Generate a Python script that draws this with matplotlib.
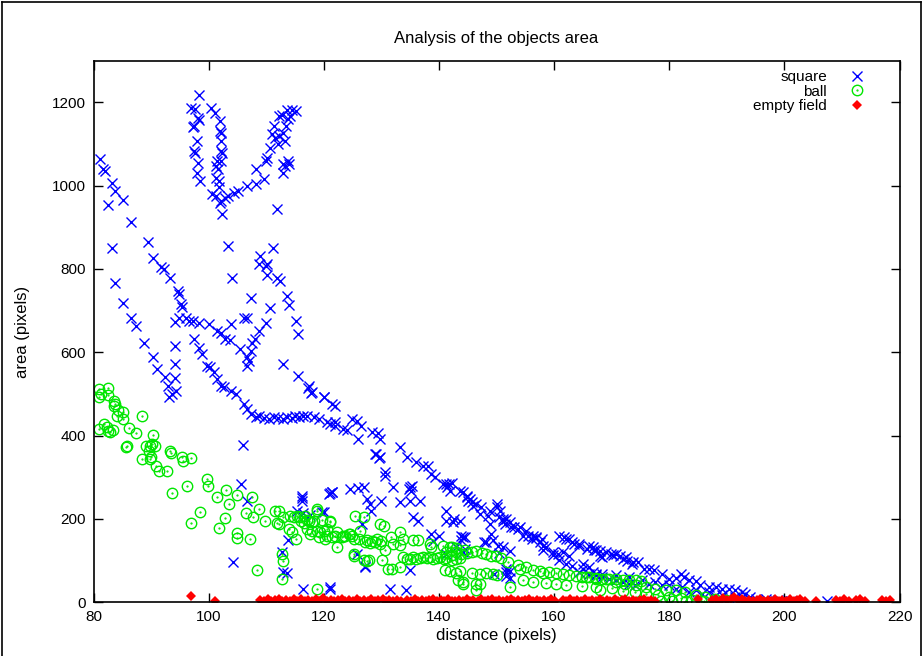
import numpy as np
import matplotlib
matplotlib.use("Agg")
from matplotlib import pyplot as plt
from matplotlib.lines import Line2D

plt.rcParams['font.family'] = ['Liberation Sans', 'DejaVu Sans']
plt.rcParams['font.size'] = 11

"""data read from the picture: (distance, area)"""
square = [
    (81.2, 1063), (81.6, 1041), (82.0, 1036), (83.2, 1006), (83.8, 987), (82.6, 953), (85.1, 965),
    (86.5, 913), (83.2, 850), (89.4, 865), (90.3, 827), (91.7, 805), (92.3, 801), (93.3, 778),
    (98.3, 1217), (96.9, 1186), (97.7, 1185), (98.1, 1162), (98.4, 1157), (97.5, 1143), (97.3, 1141),
    (97.9, 1107), (97.5, 1083), (97.6, 1078), (98.1, 1055), (97.9, 1031), (98.5, 1011),
    (100.4, 1186), (101.1, 1174), (102.0, 1156), (102.0, 1132), (102.2, 1127), (102.2, 1107),
    (102.2, 1083), (102.3, 1078), (102.2, 1059), (101.5, 1059), (101.2, 1047), (101.6, 1040),
    (101.2, 1019), (101.8, 1011), (101.8, 996), (100.5, 979), (101.2, 976), (102.1, 963), (102.0, 958),
    (102.4, 931), (102.9, 971), (103.4, 974), (104.4, 983), (105.1, 986), (106.6, 999), (108.2, 1004),
    (109.6, 1015), (108.3, 1039), (110.0, 1059), (110.2, 1066), (110.6, 1091), (111.0, 1123),
    (111.4, 1143), (112.2, 1166), (112.8, 1170), (113.6, 1182), (114.5, 1182), (115.2, 1178),
    (111.5, 1115), (112.0, 1099), (112.3, 1120), (112.9, 1127), (113.2, 1107), (113.5, 1143),
    (113.8, 1159), (114.1, 1167), (112.9, 1051), (113.3, 1047), (113.7, 1060), (114.0, 1052),
    (113.0, 1031), (111.8, 945), (103.4, 855), (111.1, 851), (109.0, 831), (110.1, 811), (108.7, 811),
    (109.9, 808), (110.2, 785),
    (83.8, 766), (85.1, 719), (86.5, 682), (87.3, 662), (88.7, 623), (90.3, 588), (91.0, 560),
    (92.5, 541), (92.9, 520), (93.2, 492), (93.7, 500), (94.3, 508), (94.1, 538), (94.1, 572),
    (94.1, 616), (94.1, 673), (94.8, 683), (94.6, 747), (95.2, 716), (95.4, 708), (94.9, 739),
    (96.0, 683), (96.6, 675), (97.2, 674), (98.3, 671), (100.1, 669), (101.5, 651), (102.1, 647),
    (102.9, 632), (103.7, 629), (105.5, 608),
    (97.5, 632), (98.3, 610), (98.9, 596), (99.8, 568), (100.3, 565), (100.9, 552), (101.5, 536),
    (102.1, 520), (102.7, 516), (103.8, 508), (104.7, 500), (106.1, 476), (106.7, 464), (107.3, 452),
    (108.2, 444), (108.8, 446), (109.6, 443), (110.4, 440), (111.3, 444), (112.0, 442), (112.9, 441),
    (113.6, 445), (114.4, 443), (115.0, 447), (115.7, 445), (116.4, 448), (117.1, 448), (118.3, 444),
    (119.2, 440),
    (104.1, 778), (107.3, 730), (106.7, 683), (108.7, 651), (109.9, 671), (110.7, 707), (111.9, 779),
    (112.4, 771), (113.6, 735), (114.0, 713), (115.1, 675), (115.6, 644), (113.0, 573), (115.6, 544),
    (117.3, 515), (117.8, 502), (120.0, 492),
    (106.7, 588), (107.3, 604), (107.0, 580), (106.7, 568), (107.5, 622), (108.1, 633),
    (103.8, 668), (106.2, 683), (106.0, 378),
    (117.4, 520), (118.0, 504), (120.1, 492), (121.4, 476), (122.0, 470), (120.5, 432), (121.1, 428),
    (121.9, 432), (122.0, 424), (123.4, 416), (124.0, 414), (124.9, 440), (125.8, 436), (126.0, 392),
    (126.4, 424), (128.3, 408), (129.4, 406), (129.8, 392), (128.9, 356), (129.7, 348), (130.6, 312),
    (130.6, 304), (133.2, 372), (134.4, 348), (136.1, 336), (137.2, 326), (138.1, 326), (139.3, 300),
    (138.7, 308), (140.7, 284), (141.8, 284), (141.4, 276), (143.6, 268), (144.8, 252), (145.1, 244),
    (145.7, 240), (147.1, 212), (148.5, 208), (150.0, 228), (150.6, 219), (151.1, 196), (151.7, 199),
    (152.3, 192), (154.0, 180), (155.2, 172), (156.3, 160), (156.9, 156), (157.9, 152), (160.9, 160),
    (162.0, 152), (163.2, 144), (164.4, 136), (161.5, 120), (162.6, 112), (165.0, 92), (166.1, 84),
    (167.3, 68), (166.7, 132), (167.9, 124),
    (135.0, 276), (134.8, 272), (135.3, 280), (135.1, 268), (133.2, 240), (135.0, 244), (136.7, 244),
    (135.5, 204), (136.4, 196), (132.1, 276), (127.5, 248), (128.0, 236), (130.0, 242), (126.9, 276),
    (124.6, 272), (120.9, 260), (121.5, 264), (119.7, 216), (126.6, 188), (127.2, 84), (131.5, 33),
    (134.2, 30), (121.1, 33), (141.3, 220), (143.9, 160), (144.5, 156), (143.0, 132), (147.9, 144),
    (149.1, 164), (151.7, 81), (152.3, 76), (138.7, 164), (140.0, 160), (139.0, 148), (135.0, 77),
    (141.3, 117), (144.5, 129), (144.2, 120),
    (105.6, 283), (106.7, 242), (104.2, 97), (116.2, 256), (116.2, 250), (116.2, 244), (115.4, 220),
    (116.4, 214), (117.6, 210), (120.0, 216), (121.0, 262), (121.4, 264), (126.0, 275), (128.2, 220),
    (125.7, 117), (127.1, 86), (129.1, 356), (129.6, 346), (112.8, 120), (113.7, 149), (113.0, 73),
    (113.6, 70), (116.4, 33), (121.0, 37),
    (141.3, 284), (142.2, 286), (141.9, 268), (144.2, 264), (144.8, 256), (145.4, 248), (145.9, 232),
    (146.5, 236), (147.3, 228), (148.8, 220), (150.0, 236), (150.5, 204), (151.1, 200), (151.4, 188),
    (152.5, 180), (153.1, 180), (153.7, 176), (154.6, 160), (155.5, 160), (156.1, 152), (156.9, 154),
    (157.5, 144), (158.0, 136), (158.6, 132), (159.8, 120), (160.6, 116), (161.8, 156), (162.6, 152),
    (163.5, 141), (164.4, 140), (166.1, 136), (167.0, 125), (167.9, 112), (169.0, 120), (170.2, 114),
    (171.4, 110), (172.5, 108), (173.7, 97),
    (158.0, 125), (159.8, 113), (160.9, 101), (162.0, 92), (163.2, 88), (164.4, 73), (166.1, 69),
    (167.3, 65), (168.4, 61), (169.6, 57), (170.8, 53), (171.9, 49), (173.0, 45), (174.1, 41),
    (143.6, 196), (142.5, 192), (142.7, 200), (141.3, 196), (144.2, 156), (143.9, 150), (148.2, 144),
    (149.4, 150), (150.2, 136), (151.1, 132), (152.3, 124), (150.5, 118), (148.8, 188), (149.6, 69),
    (151.7, 72), (151.7, 64), (152.3, 58),
    (165.8, 129), (167.3, 126), (168.4, 108), (169.9, 117), (170.8, 115), (171.9, 105), (172.7, 99),
    (173.6, 93), (174.5, 97), (175.6, 81), (176.5, 81), (177.4, 77), (178.8, 69), (180.0, 57),
    (181.2, 59), (182.0, 69), (182.6, 61), (183.4, 53), (184.6, 50), (185.4, 41), (186.9, 37),
    (188.1, 37), (189.2, 33), (190.4, 31), (191.5, 29), (192.6, 25), (193.2, 21),
    (165.0, 81), (166.7, 73), (168.4, 69), (170.8, 65), (173.0, 61), (175.3, 53), (177.6, 49),
    (180.0, 41), (182.3, 37), (184.6, 29), (186.9, 25), (189.2, 17), (191.5, 13), (195.0, 9),
    (196.8, 7), (198.9, 5), (201.2, 3), (207.4, 3),
    (176.5, 45), (178.8, 41), (181.2, 33), (183.4, 25), (185.7, 21), (188.0, 14), (190.3, 11),
    (192.6, 10), (194.0, 12), (197.0, 4), (199.5, 3),
]

ball = [
    (81.0, 513), (82.5, 514), (81.0, 492), (81.3, 500), (82.5, 497), (83.6, 484), (83.7, 475),
    (83.5, 470), (84.2, 462), (85.1, 456), (84.0, 448), (85.2, 440), (88.5, 446), (81.0, 416),
    (81.9, 428), (82.4, 420), (82.6, 412), (82.8, 408), (83.4, 414), (86.2, 418), (87.4, 406),
    (90.4, 402), (90.2, 380), (89.1, 376), (89.9, 374), (90.6, 374), (85.6, 372), (85.9, 376),
    (93.3, 362), (93.5, 358), (95.4, 348), (96.9, 346), (88.5, 343), (89.9, 345),
    (89.7, 363), (90.0, 348), (90.8, 328), (91.4, 314), (92.8, 316), (95.5, 340), (93.6, 263),
    (96.2, 278), (96.9, 191), (98.5, 216), (99.8, 296), (99.9, 278), (101.5, 252), (101.8, 178),
    (102.8, 202), (103.1, 270), (103.6, 235), (104.9, 258), (104.9, 166), (104.9, 155), (106.5, 214),
    (107.5, 252), (107.7, 204), (107.2, 151), (108.7, 224), (108.4, 77), (109.8, 196), (111.6, 220),
    (111.8, 190), (112.2, 218), (112.3, 188), (113.0, 204), (114.2, 208), (114.8, 204), (115.3, 206),
    (115.9, 204), (113.9, 176), (114.4, 168), (115.1, 152), (116.0, 195), (116.5, 190), (117.4, 195),
    (118.0, 193), (118.8, 220), (117.6, 164), (118.8, 172), (119.4, 168), (120.0, 170), (120.6, 175),
    (121.1, 192), (119.1, 156), (120.2, 152), (121.4, 156), (122.0, 160), (122.3, 132), (123.1, 156),
    (123.7, 158), (124.6, 164), (125.2, 152), (126.1, 152), (126.9, 204), (126.3, 172), (127.5, 150),
    (128.4, 148), (129.3, 152), (129.9, 146), (125.2, 112), (126.9, 101), (127.5, 98), (112.8, 117),
    (112.9, 100), (112.8, 57), (118.8, 31),
    (118.8, 223), (116.8, 208), (117.1, 198), (118.3, 196), (119.7, 198), (121.1, 196), (117.1, 176),
    (118.0, 172), (120.5, 160), (122.3, 168), (123.4, 160), (124.3, 164), (124.9, 158), (125.5, 208),
    (127.2, 144), (128.0, 142), (128.9, 144), (129.8, 188), (130.4, 184), (129.8, 140), (130.6, 125),
    (125.2, 117), (127.8, 101), (130.1, 101), (131.2, 81), (131.8, 79), (131.6, 156), (133.2, 168),
    (133.8, 152), (132.1, 140), (133.2, 138), (133.8, 108), (134.4, 104), (135.0, 104), (133.2, 85),
    (135.5, 149), (136.4, 149), (135.5, 108), (136.1, 104), (136.7, 106), (137.3, 108), (137.9, 106),
    (138.4, 108), (139.0, 104), (139.6, 106), (140.2, 108), (140.8, 104), (141.3, 106), (142.2, 102),
    (143.0, 104), (143.6, 106), (138.4, 141), (138.7, 132), (140.7, 136), (141.9, 132), (143.0, 130),
    (141.0, 77), (141.9, 75), (143.0, 71), (143.3, 53), (144.2, 49),
    (142.2, 132), (144.5, 126), (141.3, 120), (142.2, 114), (143.0, 120), (143.9, 116), (144.8, 118),
    (145.7, 120), (146.5, 122), (147.4, 118), (148.2, 116), (149.1, 112), (149.9, 110), (150.8, 106),
    (143.6, 74), (144.2, 45), (145.7, 70), (147.1, 68), (148.2, 70), (149.4, 69), (146.5, 45),
    (146.5, 29), (147.1, 45), (150.0, 66), (152.0, 97), (152.3, 37), (153.7, 89), (154.0, 80),
    (155.2, 84), (156.3, 77), (157.5, 76), (158.0, 70), (159.2, 72), (160.3, 70), (161.5, 69),
    (162.6, 66), (163.8, 64), (164.9, 60), (166.1, 60), (167.3, 58), (168.4, 56), (169.6, 56),
    (170.7, 56), (171.9, 54), (173.0, 54), (174.2, 54), (175.1, 50), (154.6, 53), (156.3, 48),
    (158.6, 46), (160.3, 45), (162.0, 42), (164.9, 38), (167.3, 36), (170.0, 34),
    (165.5, 61), (167.3, 57), (169.0, 57), (170.7, 49), (172.4, 45), (174.2, 41), (175.9, 37),
    (177.6, 33), (179.4, 29), (181.1, 29), (182.8, 25), (184.6, 17), (186.3, 13), (188.0, 9),
    (189.8, 5), (176.0, 20), (178.0, 18), (180.0, 12), (182.0, 10), (184.0, 6), (186.0, 4),
    (178.5, 3), (180.5, 2), (183.0, 2), (185.5, 3), (188.0, 2), (172.0, 28), (174.0, 24), (168.0, 30),
]

empty_field = [
    (96.9, 16), (101.1, 4),
    (109.0, 6), (109.6, 3), (110.3, 7), (110.9, 2), (111.5, 5), (112.2, 8), (112.8, 3), (113.5, 6),
    (114.1, 2), (114.8, 7), (115.4, 4), (116.0, 9), (116.7, 3), (117.3, 6), (118.0, 2), (118.6, 8),
    (119.2, 4), (119.9, 10), (120.5, 3), (121.2, 6), (121.8, 2), (122.5, 5), (123.1, 8), (123.7, 3),
    (124.4, 6), (125.0, 2), (125.7, 9), (126.3, 4), (127.0, 6), (127.6, 3), (128.2, 7), (128.9, 2),
    (129.5, 5), (130.2, 8), (130.8, 3), (131.4, 6), (132.1, 2), (132.7, 5), (133.4, 3),
    (134.5, 6), (135.1, 2), (135.8, 8), (136.4, 4), (137.0, 6), (137.7, 2), (138.3, 5), (139.0, 9),
    (139.6, 3), (140.3, 6), (140.9, 2), (141.5, 7), (142.2, 4), (142.8, 3), (143.5, 6), (144.1, 2),
    (144.8, 8), (145.4, 4), (146.0, 6), (146.7, 3), (147.3, 7), (148.0, 2), (148.6, 5), (149.2, 8),
    (149.9, 3), (150.5, 6), (151.2, 2), (151.8, 5), (152.5, 7), (153.1, 3), (153.7, 6), (154.4, 2),
    (155.0, 5), (155.7, 8), (156.3, 3), (157.0, 6), (157.6, 2), (158.2, 5), (158.9, 4), (159.5, 7),
    (160.2, 3),
    (161.5, 5), (162.1, 2), (162.8, 7), (163.4, 4), (164.0, 6), (164.7, 2), (165.3, 8), (166.0, 3),
    (166.6, 5), (167.3, 2), (167.9, 7), (168.5, 4), (169.2, 6), (169.8, 3), (170.5, 8), (171.1, 2),
    (171.8, 5), (172.4, 7), (173.0, 3), (173.7, 6), (174.3, 2), (175.0, 5), (175.6, 8), (176.3, 3),
    (176.9, 6), (177.5, 4),
    (185.0, 8), (187.5, 5), (188.1, 9), (188.8, 4), (189.4, 11), (190.0, 6), (190.7, 8), (191.3, 13),
    (191.9, 5), (192.6, 7), (193.2, 3), (193.9, 6), (194.5, 2), (195.2, 5), (195.8, 8), (196.4, 3),
    (197.1, 6), (197.7, 2), (198.4, 7), (199.0, 4), (199.6, 6), (200.3, 3), (200.9, 7), (201.6, 2),
    (202.2, 5), (202.8, 8), (203.5, 4), (205.5, 3), (209.0, 6), (209.7, 3), (210.4, 7), (211.2, 4),
    (212.5, 5), (213.2, 8), (214.0, 3), (217.0, 5), (217.6, 2), (218.3, 6),
]

x_ticks = [80, 100, 120, 140, 160, 180, 200, 220]
y_ticks = [0, 200, 400, 600, 800, 1000, 1200]

sq = np.array(square)
bl = np.array(ball)
ef = np.array(empty_field)

fig = plt.figure(figsize=(9.24, 6.56), dpi=100)
ax = fig.add_axes([93.5 / 924, 53.7 / 656, 806 / 924, 541.7 / 656])

blue = '#0000ff'
green = '#00e600'
red = '#ff0000'

p1, = ax.plot(sq[:, 0], sq[:, 1], 'x', color=blue, ms=7.2, mew=1.0, ls='none')
p2, = ax.plot(bl[:, 0], bl[:, 1], 'o', mfc='none', mec=green, ms=7.5, mew=1.0, ls='none')
p2d, = ax.plot(bl[:, 0], bl[:, 1], '.', color=green, ms=1.2, ls='none')
p3, = ax.plot(ef[:, 0], ef[:, 1], 'D', color=red, ms=5.0, mew=0, ls='none')

ax.set_xlim(80, 220)
ax.set_ylim(0, 1300)
ax.set_xticks(x_ticks)
ax.set_yticks(y_ticks)
ax.tick_params(direction='in', top=True, right=True, length=6.5, width=1, pad=5.5, labelsize=11)
for s in ax.spines.values():
    s.set_linewidth(1.2)

ax.set_title('Analysis of the objects area', fontsize=12, pad=12.5)
ax.set_xlabel('distance (pixels)', fontsize=12, labelpad=3)
ax.set_ylabel('area (pixels)', fontsize=12, labelpad=16)

leg = ax.legend([p1, (p2, p2d), p3], ['square', 'ball', 'empty field'],
                loc='upper right', bbox_to_anchor=(0.966, 0.997), frameon=False,
                markerfirst=False, alignment='right', handlelength=1.0,
                handletextpad=1.45, labelspacing=0.05, borderpad=0, fontsize=11)

# outer frame like the gnuplot png
fig.add_artist(Line2D([2 / 924, 2 / 924], [0, 1 - 2 / 656], color='black', lw=1.2))
fig.add_artist(Line2D([2 / 924, 921 / 924], [1 - 2 / 656, 1 - 2 / 656], color='black', lw=1.2))
fig.add_artist(Line2D([921 / 924, 921 / 924], [0, 1 - 2 / 656], color='black', lw=1.2))

fig.savefig('out.png', dpi=100)
